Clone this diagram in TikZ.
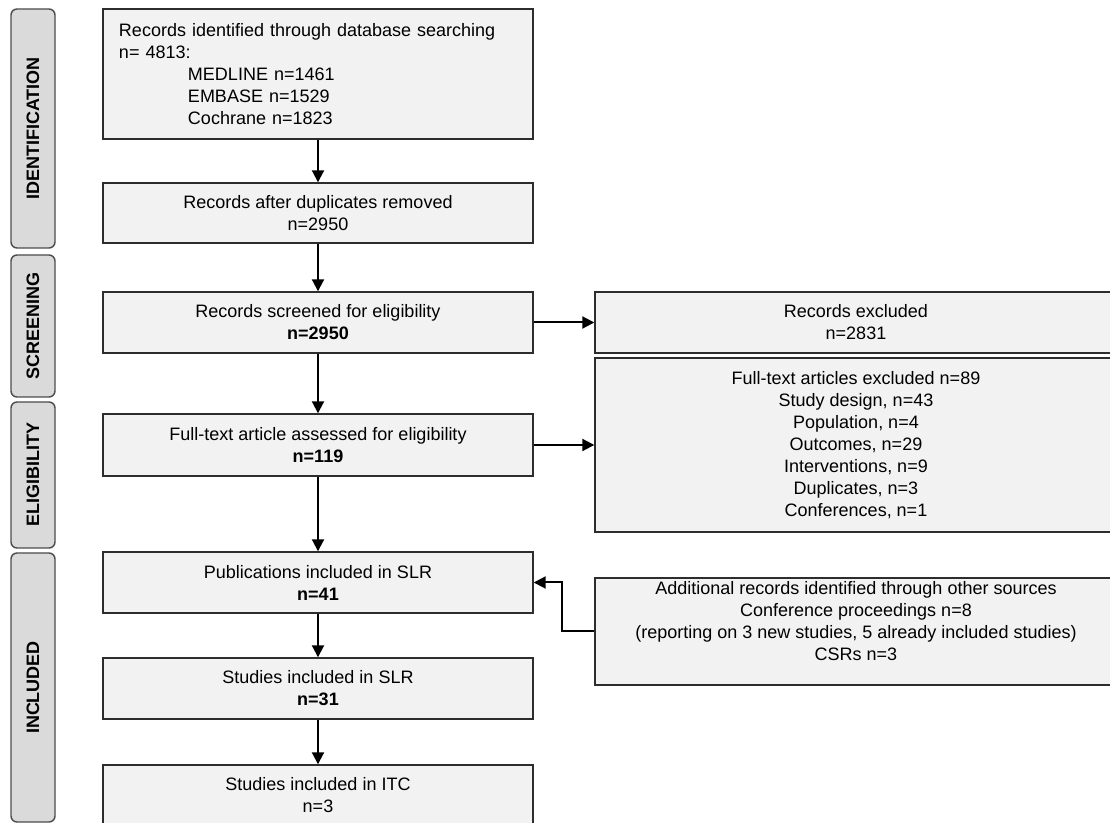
\documentclass[tikz,border=0pt]{standalone}
\usepackage{fontspec}
\setmainfont{Liberation Sans}
\usetikzlibrary{arrows.meta}

\definecolor{boxfill}{RGB}{242,242,242}
\definecolor{bandfill}{RGB}{218,218,218}
\definecolor{edgegray}{RGB}{45,45,45}

\begin{document}
\begin{tikzpicture}[x=0.5pt, y=-0.5pt,
    font=\fontsize{9pt}{11pt}\selectfont,
    mainbox/.style={draw=edgegray, line width=0.7pt, fill=boxfill,
        minimum width=215pt, minimum height=30.5pt, align=center, inner sep=0pt},
    sidebox/.style={mainbox, minimum width=261pt},
    band/.style={draw=edgegray!85, line width=0.7pt, fill=bandfill,
        rounded corners=3pt, rotate=90, minimum height=22pt, inner sep=0pt,
        font=\fontsize{9pt}{11pt}\selectfont\bfseries},
    flow/.style={-{Triangle[length=6pt,width=6pt]}, line width=1pt}]
    \useasboundingbox (0,0) rectangle (1110,823);

    % Phase bands on the left
    \node[band, minimum width=119.5pt] (identification) at (33,128.5) {IDENTIFICATION};
    \node[band, minimum width=71pt] (screening) at (33,326) {SCREENING};
    \node[band, minimum width=73pt] (eligibility) at (33,475) {ELIGIBILITY};
    \node[band, minimum width=134.5pt] (included) at (33,687.5) {INCLUDED};

    % Main column
    \node[mainbox, minimum height=65pt, text width=199pt, inner xsep=8pt, align=left]
        (records) at (318,74) {Records identified through database searching\\
        n= 4813:\\
        \hspace*{34.5pt}MEDLINE n=1461\\
        \hspace*{34.5pt}EMBASE n=1529\\
        \hspace*{34.5pt}Cochrane n=1823};
    \node[mainbox, minimum height=30pt] (dup) at (318,213) {Records after duplicates removed\\ n=2950};
    \node[mainbox] (screen) at (318,322.5) {Records screened for eligibility\\ \textbf{n=2950}};
    \node[mainbox, minimum height=31pt] (assess) at (318,445) {Full-text article assessed for eligibility\\ \textbf{n=119}};
    \node[mainbox] (pub) at (318,582.5) {Publications included in SLR\\ \textbf{n=41}};
    \node[mainbox] (slr) at (318,688.5) {Studies included in SLR\\ \textbf{n=31}};
    \node[mainbox] (itc) at (318,795.5) {Studies included in ITC\\ n=3};

    % Side column
    \node[sidebox] (excl) at (856,322.5) {Records excluded\\ n=2831};
    \node[sidebox, minimum height=87pt] (ftexcl) at (856,445) {Full-text articles excluded n=89\\
        Study design, n=43\\ Population, n=4\\ Outcomes, n=29\\ Interventions, n=9\\
        Duplicates, n=3\\ Conferences, n=1};
    \node[sidebox, minimum height=53.5pt] (addl) at (856,631.5) {Additional records identified through other sources\\
        Conference proceedings n=8\\
        (reporting on 3 new studies, 5 already included studies)\\
        CSRs n=3\\ \mbox{}};

    % Arrows
    \draw[flow] (records) -- (dup);
    \draw[flow] (dup) -- (screen);
    \draw[flow] (screen) -- (assess);
    \draw[flow] (assess) -- (pub);
    \draw[flow] (pub) -- (slr);
    \draw[flow] (slr) -- (itc);
    \draw[flow] (screen) -- (excl);
    \draw[flow] (assess) -- (ftexcl);
    \draw[flow] (addl.west) -- ++(-32,0) |- (pub.east);
\end{tikzpicture}
\end{document}
